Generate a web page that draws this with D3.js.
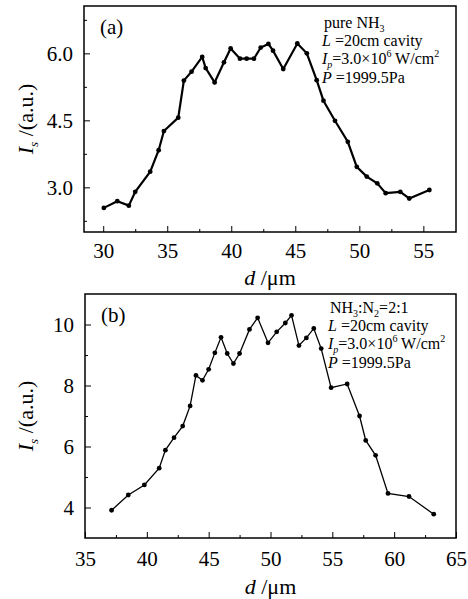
<!DOCTYPE html>
<html>
<head>
<meta charset="utf-8">
<script src="https://cdn.jsdelivr.net/npm/d3@7"></script>
<style>
body { margin: 0; background: #fff; }
.frame { fill: none; stroke: #000; stroke-width: 1.5px; }
.axis path { display: none; }
.axis line { stroke: #000; stroke-width: 1px; }
</style>
</head>
<body>
<div id="chart"></div>
<script>
// panel (a): pure NH3
var dA = [30.05, 31.1, 32.0, 32.5, 33.67, 34.33, 34.74, 35.86, 36.3, 36.9, 37.73, 38.0, 38.7, 39.43, 39.95, 40.68, 41.2, 41.77, 42.3, 42.9, 43.26, 44.06, 45.16, 45.9, 46.67, 47.2, 48.1, 49.1, 49.8, 50.58, 51.4, 52.06, 53.2, 53.9, 55.47];
var isA = [2.54, 2.69, 2.59, 2.9, 3.35, 3.83, 4.26, 4.56, 5.39, 5.59, 5.92, 5.67, 5.35, 5.8, 6.11, 5.88, 5.88, 5.88, 6.13, 6.21, 6.06, 5.65, 6.22, 6.0, 5.4, 4.94, 4.49, 4.02, 3.46, 3.24, 3.09, 2.87, 2.9, 2.75, 2.94];
var xTicksA = [30, 35, 40, 45, 50, 55];
var yTicksA = [3.0, 4.5, 6.0];

// panel (b): NH3:N2 = 2:1
var dB = [37.15, 38.5, 39.8, 41.0, 41.5, 42.2, 42.9, 43.5, 43.97, 44.5, 45.0, 45.5, 46.0, 46.5, 47.0, 47.5, 48.3, 48.96, 49.8, 50.5, 51.2, 51.7, 52.3, 52.9, 53.5, 54.1, 54.9, 56.2, 57.2, 57.7, 58.5, 59.5, 61.2, 63.2];
var isB = [3.91, 4.41, 4.74, 5.29, 5.88, 6.29, 6.67, 7.33, 8.33, 8.17, 8.53, 9.07, 9.58, 9.05, 8.72, 9.05, 9.84, 10.22, 9.4, 9.76, 10.05, 10.3, 9.31, 9.56, 9.87, 9.21, 7.93, 8.05, 7.0, 6.2, 5.71, 4.46, 4.36, 3.78];
var xTicksB = [35, 40, 45, 50, 55, 60, 65];
var yTicksB = [4, 6, 8, 10];

var width = 468;
var height = 599;
var serif = 'Liberation Serif, Times New Roman, DejaVu Serif, serif';

var svg = d3.select('#chart')
	.append('svg')
	.attr('width', width)
	.attr('height', height)
	.attr('font-family', serif);

function styleTicks(ax) {
	ax.attr('font-family', serif).attr('font-size', 21);
	ax.selectAll('text').attr('fill', '#000');
}

function panel(opt) {
	var x = d3.scaleLinear().domain(opt.xDomain).range([opt.left, opt.right]);
	var y = d3.scaleLinear().domain(opt.yDomain).range([opt.bottom, opt.top]);
	var g = svg.append('g');

	// minor ticks
	g.append('g')
		.attr('class', 'axis')
		.attr('transform', `translate(0, ${opt.bottom})`)
		.call(d3.axisBottom(x).tickValues(opt.xMinor).tickSizeInner(-3).tickSizeOuter(0).tickFormat(''));
	g.append('g')
		.attr('class', 'axis')
		.attr('transform', `translate(${opt.left}, 0)`)
		.call(d3.axisLeft(y).tickValues(opt.yMinor).tickSizeInner(-3).tickSizeOuter(0).tickFormat(''));

	// major ticks
	g.append('g')
		.attr('class', 'axis')
		.attr('transform', `translate(0, ${opt.bottom})`)
		.call(d3.axisBottom(x).tickValues(opt.xTicks).tickSizeInner(-6).tickSizeOuter(0).tickPadding(opt.xPad))
		.call(styleTicks);
	g.append('g')
		.attr('class', 'axis')
		.attr('transform', `translate(${opt.left}, 0)`)
		.call(d3.axisLeft(y).tickValues(opt.yTicks).tickSizeInner(-6).tickSizeOuter(0).tickPadding(11).tickFormat(opt.yFormat))
		.call(styleTicks);

	g.append('rect')
		.attr('class', 'frame')
		.attr('x', opt.left)
		.attr('y', opt.top)
		.attr('width', opt.right - opt.left)
		.attr('height', opt.bottom - opt.top);

	var pts = opt.xs.map((d, i) => ({ d: d, v: opt.ys[i] }));
	var line = d3.line().x(p => x(p.d)).y(p => y(p.v));
	g.append('path')
		.datum(pts)
		.attr('d', line)
		.attr('fill', 'none')
		.attr('stroke', '#000')
		.attr('stroke-width', opt.lw);
	g.selectAll('circle')
		.data(pts)
		.enter()
		.append('circle')
		.attr('cx', p => x(p.d))
		.attr('cy', p => y(p.v))
		.attr('r', opt.r)
		.attr('fill', '#000');

	// panel letter
	g.append('text')
		.attr('x', opt.left + 16)
		.attr('y', opt.top + 28)
		.attr('font-size', 21)
		.text(opt.letter);

	// axis titles
	var xt = g.append('text')
		.attr('x', (opt.left + opt.right) / 2)
		.attr('y', opt.xTitleY)
		.attr('text-anchor', 'middle')
		.attr('font-size', 22);
	xt.append('tspan').attr('font-style', 'italic').text('d');
	xt.append('tspan').text(' /\u03bcm');

	var yt = g.append('text')
		.attr('transform', `translate(33, ${(opt.top + opt.bottom) / 2}) rotate(-90)`)
		.attr('text-anchor', 'middle')
		.attr('font-size', 22);
	yt.append('tspan').attr('font-style', 'italic').text('I');
	yt.append('tspan').attr('font-style', 'italic').attr('font-size', 13).attr('dy', 5).text('s');
	yt.append('tspan').attr('dy', -5).text(' /(a.u.)');

	// conditions
	var n = g.append('g').attr('font-size', 16);
	var t0 = n.append('text').attr('x', opt.noteX).attr('y', opt.noteY);
	opt.firstLine(t0);
	var t1 = n.append('text').attr('x', opt.noteX - 2).attr('y', opt.noteY + 18);
	t1.append('tspan').attr('font-style', 'italic').text('L');
	t1.append('tspan').text(' =20cm cavity');
	var t2 = n.append('text').attr('x', opt.noteX - 2).attr('y', opt.noteY + 36);
	t2.append('tspan').attr('font-style', 'italic').text('I');
	t2.append('tspan').attr('font-style', 'italic').attr('font-size', 10).attr('dy', 4).text('p');
	t2.append('tspan').attr('dy', -4).text('=3.0\u00d710');
	t2.append('tspan').attr('font-size', 10).attr('dy', -7).text('6');
	t2.append('tspan').attr('dy', 7).text(' W/cm');
	t2.append('tspan').attr('font-size', 10).attr('dy', -7).text('2');
	var t3 = n.append('text').attr('x', opt.noteX - 2).attr('y', opt.noteY + 55);
	t3.append('tspan').attr('font-style', 'italic').text('P');
	t3.append('tspan').text(' =1999.5Pa');
}

panel({
	xs: dA, ys: isA,
	xDomain: [28.5, 57.55], yDomain: [2.0, 7.06],
	left: 84, right: 456, top: 6, bottom: 232,
	xTicks: xTicksA, xMinor: [32.5, 37.5, 42.5, 47.5, 52.5],
	yTicks: yTicksA, yMinor: [2.25, 3.75, 5.25, 6.75],
	yFormat: d3.format('.1f'), xPad: 11,
	lw: 2.2, r: 2.4, letter: '(a)', xTitleY: 285,
	noteX: 324, noteY: 28,
	firstLine: function(t) {
		t.append('tspan').text('pure NH');
		t.append('tspan').attr('font-size', 10).attr('dy', 4).text('3');
	}
});

panel({
	xs: dB, ys: isB,
	xDomain: [35, 65], yDomain: [3, 11],
	left: 85, right: 456, top: 294, bottom: 538,
	xTicks: xTicksB, xMinor: [37.5, 42.5, 47.5, 52.5, 57.5, 62.5],
	yTicks: yTicksB, yMinor: [5, 7, 9],
	yFormat: d3.format('d'), xPad: 13,
	lw: 1.3, r: 2.4, letter: '(b)', xTitleY: 594,
	noteX: 330, noteY: 313,
	firstLine: function(t) {
		t.append('tspan').text('NH');
		t.append('tspan').attr('font-size', 10).attr('dy', 4).text('3');
		t.append('tspan').attr('dy', -4).text(':N');
		t.append('tspan').attr('font-size', 10).attr('dy', 4).text('2');
		t.append('tspan').attr('dy', -4).text('=2:1');
	}
});
</script>
</body>
</html>
